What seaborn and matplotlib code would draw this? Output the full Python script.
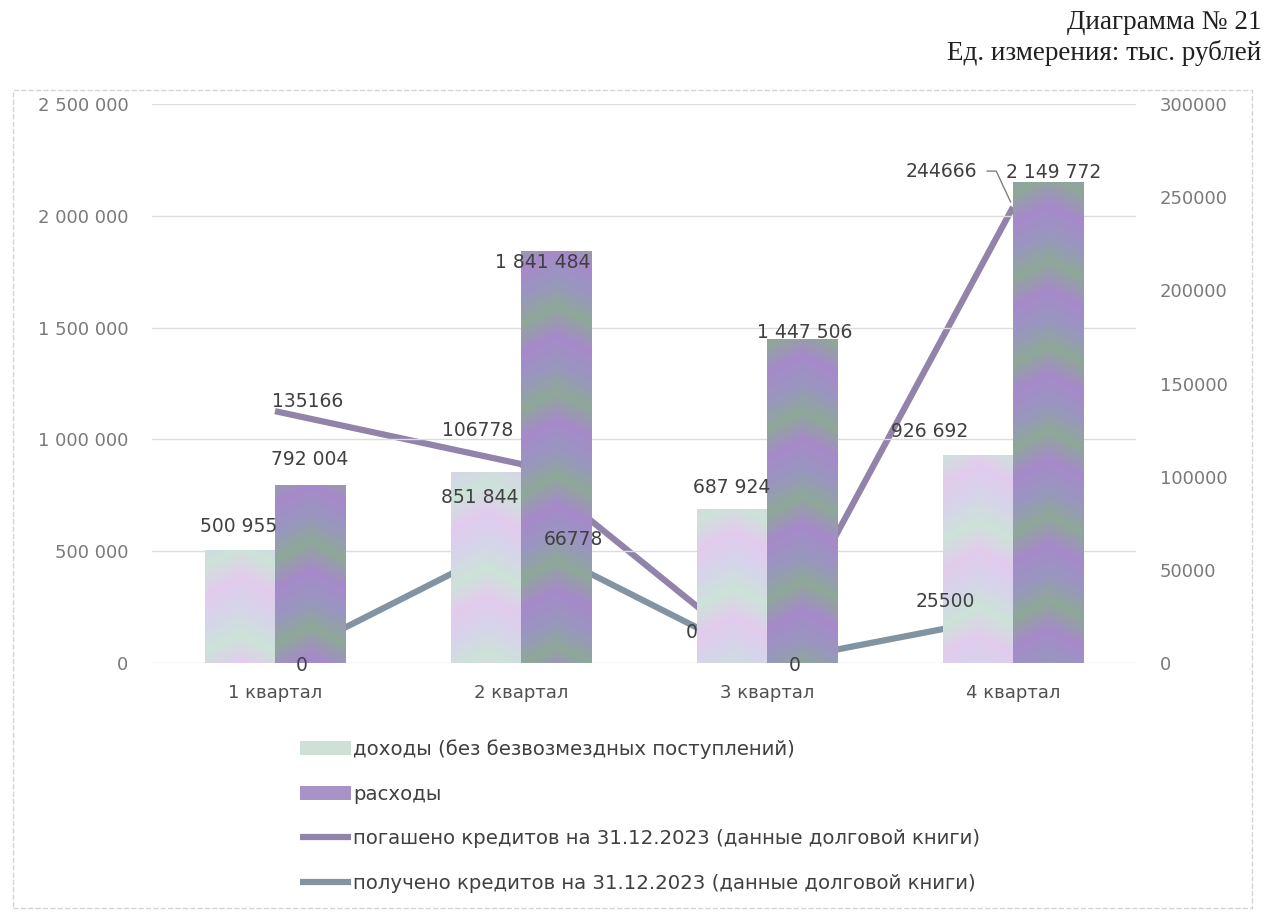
import numpy as np
import pandas as pd
import matplotlib.pyplot as plt
import seaborn as sns
from matplotlib.patches import Patch, Rectangle
from matplotlib.lines import Line2D
from matplotlib.colors import LinearSegmentedColormap
from matplotlib.ticker import FuncFormatter, MultipleLocator

quarters = ['1 квартал', '2 квартал', '3 квартал', '4 квартал']
income = [500955, 851844, 687924, 926692]
expenses = [792004, 1841484, 1447506, 2149772]
repaid = [135166, 106778, 0, 244666]
received = [0, 66778, 0, 25500]

income_label = 'доходы (без безвозмездных поступлений)'
expenses_label = 'расходы'
repaid_label = 'погашено кредитов на 31.12.2023 (данные долговой книги)'
received_label = 'получено кредитов на 31.12.2023 (данные долговой книги)'

bars_df = pd.DataFrame({
    'quarter': quarters * 2,
    'value': income + expenses,
    'series': [income_label] * len(quarters) + [expenses_label] * len(quarters),
})
pos = list(range(len(quarters)))

colors = {income_label: '#d6d2e0', expenses_label: '#9a8db4'}
# soft pastel texture of the scanned bars
income_cmap = LinearSegmentedColormap.from_list(
    'inc', ['#e2cbee', '#cde3d8', '#d6d4ea', '#e2cbee'])
expenses_cmap = LinearSegmentedColormap.from_list(
    'exp', ['#a68aca', '#8ea898', '#9a96c0', '#a68aca'])
repaid_color = '#9283aa'
received_color = '#8294a2'
label_color = '#404040'
tick_color = '#7a7a7a'

sns.set_theme(style='white')
plt.rcParams['font.family'] = ['DejaVu Sans']

fig = plt.figure(figsize=(12.7, 9.13), dpi=100)
ax = fig.add_axes([0.1197, 0.2738, 0.7748, 0.6123])
ax2 = ax.twinx()

sns.barplot(data=bars_df, x='quarter', y='value', hue='series', order=quarters,
            hue_order=[income_label, expenses_label], palette=colors, width=0.57,
            saturation=1, linewidth=0, ax=ax, legend=False)
sns.lineplot(x=pos, y=repaid, color=repaid_color, linewidth=4.5, ax=ax2)
sns.lineplot(x=pos, y=received, color=received_color, linewidth=4.5, ax=ax2)
for ln in ax2.lines:
    ln.set_solid_capstyle('butt')

# bars over the lines, as in the original
ax.set_zorder(ax2.get_zorder() + 1)
ax.patch.set_visible(False)

# texture each bar with a soft chevron gradient clipped to the bar
for k, bar in enumerate(ax.patches):
    cmap = income_cmap if k < len(quarters) else expenses_cmap
    x0, y0 = bar.get_x(), bar.get_y()
    w, h = bar.get_width(), bar.get_height()
    rows = max(int(h / 2500000 * 560), 2)
    cols = 70
    yy, xx = np.mgrid[0:rows, 0:cols]
    t = ((yy + 0.5 * np.abs(xx - cols / 2)) / 85.0 + k * 0.23) % 1.0
    ax.imshow(t, cmap=cmap, vmin=0, vmax=1, origin='lower', aspect='auto',
              extent=[x0, x0 + w, y0, y0 + h], clip_path=bar,
              zorder=bar.get_zorder() + 0.1, interpolation='bilinear')

ax.set_xlim(-0.5, 3.5)
ax.set_ylim(0, 2500000)
ax2.set_ylim(0, 300000)
ax.set_aspect('auto')
ax.yaxis.set_major_locator(MultipleLocator(500000))
ax2.yaxis.set_major_locator(MultipleLocator(50000))
ax.yaxis.set_major_formatter(FuncFormatter(lambda v, p: f'{int(v):,}'.replace(',', ' ')))
ax2.yaxis.set_major_formatter(FuncFormatter(lambda v, p: f'{int(v)}'))
ax.grid(axis='y', color='#dcdcdc', linewidth=1)
ax2.grid(False)
ax.set_xlabel('')
ax.set_ylabel('')
ax2.set_ylabel('')
ax.tick_params(axis='y', length=0, pad=17, labelsize=13, labelcolor=tick_color)
ax2.tick_params(axis='y', length=0, pad=17, labelsize=13, labelcolor=tick_color)
ax.tick_params(axis='x', length=0, pad=15, labelsize=13, labelcolor='#505050')
for a in (ax, ax2):
    for s in a.spines.values():
        s.set_visible(False)

# data labels for bars (offsets in pixels from the bar top)
income_off = [(-1, 25), (-6, -25), (0, 22), (-48, 24)]
expenses_off = [(0, 26), (-13, -11), (3, 7), (6, 10)]
fmt = lambda v: f'{v:,}'.replace(',', ' ')
for i, q in enumerate(quarters):
    ax.annotate(fmt(income[i]), (i - 0.1425, income[i]), xytext=income_off[i],
                textcoords='offset pixels', ha='center', va='center',
                fontsize=13.5, color=label_color, zorder=5)
    ax.annotate(fmt(expenses[i]), (i + 0.1425, expenses[i]), xytext=expenses_off[i],
                textcoords='offset pixels', ha='center', va='center',
                fontsize=13.5, color=label_color, zorder=5)

repaid_off = [(33, 10), (-43, 34), (-75, 31), (-72, 36)]
received_off = [(27, -2), (52, -1), (28, -2), (-68, 14)]
scale = 2500000 / 300000
for i in pos:
    extra = {}
    if i == 3:
        extra['arrowprops'] = dict(arrowstyle='-', color='#808080', lw=1,
                                   relpos=(1, 0.5), shrinkA=5, shrinkB=4,
                                   connectionstyle='angle,angleA=0,angleB=115,rad=0')
    ax.annotate(str(repaid[i]), (i, repaid[i] * scale), xytext=repaid_off[i],
                textcoords='offset pixels', ha='center', va='center',
                fontsize=13.5, color=label_color, zorder=5, **extra)
    ax.annotate(str(received[i]), (i, received[i] * scale), xytext=received_off[i],
                textcoords='offset pixels', ha='center', va='center',
                fontsize=13.5, color=label_color, zorder=5)

handles = [
    Patch(facecolor='#cfe0d6', edgecolor='none'),
    Patch(facecolor='#a993c6', edgecolor='none'),
    Line2D([], [], color=repaid_color, linewidth=4.5, solid_capstyle='butt'),
    Line2D([], [], color=received_color, linewidth=4.5, solid_capstyle='butt'),
]
fig.legend(handles, [income_label, expenses_label, repaid_label, received_label],
           loc='upper left', bbox_to_anchor=(0.236, 0.19), frameon=False,
           fontsize=14.2, labelcolor='#404040', handlelength=2.6, handletextpad=0.1,
           labelspacing=1.29, borderpad=0, borderaxespad=0)

fig.text(0.993, 0.975, 'Диаграмма № 21', ha='right', va='center',
         fontsize=19.5, family='Liberation Serif', color='#202020')
fig.text(0.993, 0.942, 'Ед. измерения: тыс. рублей', ha='right', va='center',
         fontsize=19.5, family='Liberation Serif', color='#202020')

fig.patches.append(Rectangle((0.010, 0.006), 0.976, 0.895, transform=fig.transFigure,
                             fill=False, edgecolor='#d4d4d4', linewidth=1, linestyle='--'))

fig.savefig('out.png', dpi=100)
